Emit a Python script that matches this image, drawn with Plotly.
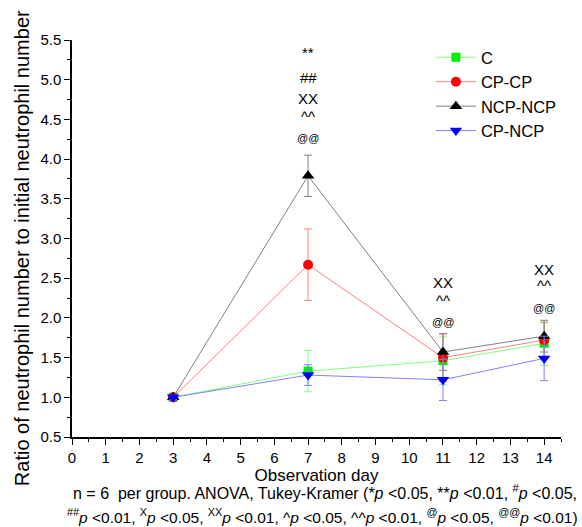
import plotly.graph_objects as go

days = [3, 7, 11, 14]
series = ["C", "CP-CP", "NCP-NCP", "CP-NCP"]
c_mean = [1.0, 1.33, 1.46, 1.68]
c_err = [0.03, 0.26, 0.30, 0.28]
cpcp_mean = [1.0, 2.67, 1.50, 1.72]
cpcp_err = [0.03, 0.45, 0.30, 0.22]
ncp_mean = [1.0, 3.79, 1.57, 1.77]
ncp_err = [0.03, 0.26, 0.23, 0.20]
cpncp_mean = [1.0, 1.28, 1.22, 1.49]
cpncp_err = [0.03, 0.13, 0.26, 0.28]

sig_days = [7, 7, 7, 7, 7, 11, 11, 11, 14, 14, 14]
sig_y = [5.34, 5.03, 4.76, 4.54, 4.27, 2.44, 2.22, 1.95, 2.61, 2.41, 2.13]
sig_text = ["**", "##", "XX", "^^", "@@", "XX", "^^", "@@", "XX", "^^", "@@"]

styles = [
    dict(line="#80ff80", marker="#00ee00", symbol="square", size=9),
    dict(line="#ff8080", marker="#ff0000", symbol="circle", size=10),
    dict(line="#808080", marker="#000000", symbol="triangle-up", size=11),
    dict(line="#8080ff", marker="#0000ff", symbol="triangle-down", size=11),
]
means = [c_mean, cpcp_mean, ncp_mean, cpncp_mean]
errs = [c_err, cpcp_err, ncp_err, cpncp_err]

fig = go.Figure()
for name, m, e, s in zip(series, means, errs, styles):
    fig.add_trace(go.Scatter(
        x=days, y=m, name=name, mode="lines+markers",
        line=dict(color=s["line"], width=1),
        marker=dict(color=s["marker"], symbol=s["symbol"], size=s["size"],
                    line=dict(width=0)),
        error_y=dict(type="data", array=e, color=s["line"], thickness=1, width=4),
    ))

font = "Liberation Sans, Arial, sans-serif"
for x, y, t in zip(sig_days, sig_y, sig_text):
    fs = 11 if t == "@@" else 15
    fig.add_annotation(x=x, y=y, text=t, showarrow=False,
                       font=dict(family=font, size=fs, color="#000000"))

fig.add_annotation(
    xref="paper", yref="paper", x=-0.102, y=0.476, textangle=-90, showarrow=False,
    xanchor="center", yanchor="middle",
    text="Ratio of neutrophil number to initial neutrophil number",
    font=dict(family=font, size=20, color="#000000"),
)

fig.add_annotation(
    xref="paper", yref="paper", x=0.517, y=-0.139, yanchor="middle", showarrow=False,
    text=("n = 6&nbsp;&nbsp;per group. ANOVA, Tukey-Kramer (*<i>p</i> &lt;0.05, **<i>p</i> &lt;0.01, "
          "<sup>#</sup><i>p</i> &lt;0.05,"),
    font=dict(family=font, size=16, color="#000000"),
)
fig.add_annotation(
    xref="paper", yref="paper", x=0.512, y=-0.198, yanchor="middle", showarrow=False,
    text=("<sup>##</sup><i>p</i> &lt;0.01, <sup>X</sup><i>p</i> &lt;0.05, <sup>XX</sup><i>p</i> &lt;0.01, "
          "^<i>p</i> &lt;0.05, ^^<i>p</i> &lt;0.01, <sup>@</sup><i>p</i> &lt;0.05, "
          "<sup>@@</sup><i>p</i> &lt;0.01)"),
    font=dict(family=font, size=15.5, color="#000000"),
)

fig.update_layout(
    width=582, height=527,
    margin=dict(l=72, r=21, t=40, b=90),
    plot_bgcolor="white", paper_bgcolor="white",
    font=dict(family=font, color="#000000"),
    showlegend=True,
    legend=dict(x=0.734, y=1.0, xanchor="left", yanchor="top",
                font=dict(family=font, size=16.5), bgcolor="rgba(0,0,0,0)",
                itemwidth=40, tracegroupgap=0),
    xaxis=dict(range=[0, 14.5], tickmode="linear", tick0=0, dtick=1,
               automargin=False,
               showline=True, linecolor="black", linewidth=1.5,
               ticks="outside", ticklen=6, tickcolor="black",
               minor=dict(dtick=0.5, ticks="outside", ticklen=3, tickcolor="black"),
               showgrid=False, zeroline=False,
               tickfont=dict(size=15),
               title=dict(text="Observation day", font=dict(size=17), standoff=0)),
    yaxis=dict(range=[0.5, 5.5], tickmode="linear", tick0=0.5, dtick=0.5,
               tickformat=".1f", automargin=False,
               showline=True, linecolor="black", linewidth=1.5,
               ticks="outside", ticklen=6, tickcolor="black",
               minor=dict(dtick=0.25, ticks="outside", ticklen=3, tickcolor="black"),
               showgrid=False, zeroline=False,
               tickfont=dict(size=15)),
)

fig.write_html("out.html", config={"displayModeBar": False},
               post_script="document.body.style.margin='0';document.body.style.padding='0';")
